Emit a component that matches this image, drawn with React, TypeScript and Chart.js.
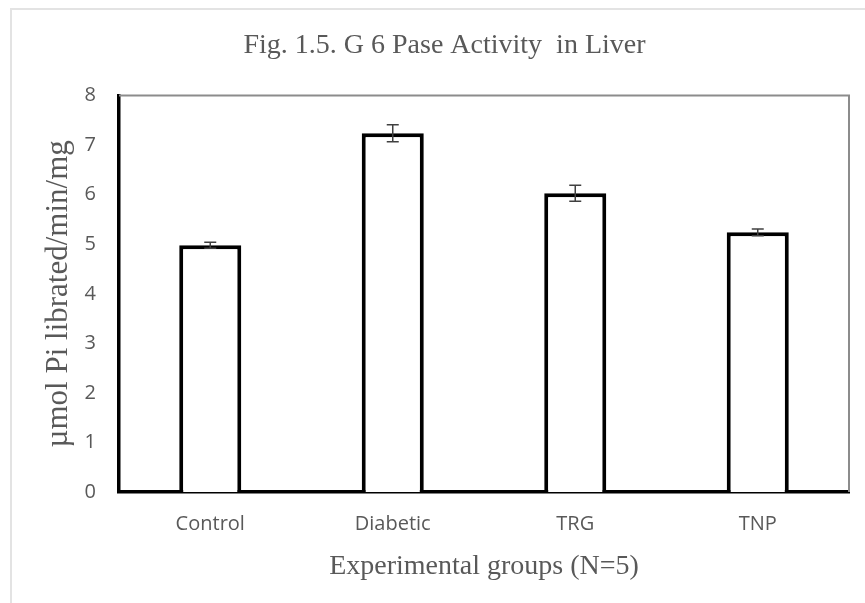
import React, { useEffect, useRef } from "react";
import { Chart, registerables } from "chart.js";

Chart.register(...registerables);

const categories = ["Control", "Diabetic", "TRG", "TNP"];
const meanValues = [4.98, 7.24, 6.03, 5.24];
const errorValues = [0.06, 0.17, 0.16, 0.07];
const yTicks = [0, 1, 2, 3, 4, 5, 6, 7, 8];
const chartTitle = "Fig. 1.5. G 6 Pase Activity  in Liver";
const xTitle = "Experimental groups (N=5)";
const yTitle = "µmol Pi librated/min/mg";

const textGray = "#595959";
const serif = "'Liberation Serif', 'Times New Roman', serif";

const decorPlugin = {
  id: "decor",
  beforeDraw(chart: any) {
    const { ctx, width, height } = chart;
    ctx.save();
    ctx.fillStyle = "#ffffff";
    ctx.fillRect(0, 0, width, height);
    ctx.strokeStyle = "#e3e3e3";
    ctx.lineWidth = 2;
    ctx.beginPath();
    ctx.moveTo(11, height);
    ctx.lineTo(11, 9);
    ctx.lineTo(width, 9);
    ctx.stroke();
    ctx.restore();
  },
  afterDraw(chart: any) {
    const { ctx, chartArea } = chart;
    ctx.save();
    ctx.strokeStyle = "#8c8c8c";
    ctx.lineWidth = 2;
    ctx.beginPath();
    ctx.moveTo(chartArea.left, chartArea.top);
    ctx.lineTo(chartArea.right, chartArea.top);
    ctx.lineTo(chartArea.right, chartArea.bottom);
    ctx.stroke();
    ctx.restore();
  },
};

const errorBarPlugin = {
  id: "errorBars",
  afterDatasetsDraw(chart: any) {
    const { ctx } = chart;
    const meta = chart.getDatasetMeta(0);
    const yScale = chart.scales.y;
    ctx.save();
    ctx.strokeStyle = "#404040";
    ctx.lineWidth = 1.5;
    meta.data.forEach((bar: any, i: number) => {
      const x = bar.x;
      const yHi = yScale.getPixelForValue(meanValues[i] + errorValues[i]);
      const yLo = yScale.getPixelForValue(meanValues[i] - errorValues[i]);
      const cap = 6;
      ctx.beginPath();
      ctx.moveTo(x, yHi);
      ctx.lineTo(x, yLo);
      ctx.moveTo(x - cap, yHi);
      ctx.lineTo(x + cap, yHi);
      ctx.moveTo(x - cap, yLo);
      ctx.lineTo(x + cap, yLo);
      ctx.stroke();
    });
    ctx.restore();
  },
};

export default function App() {
  const canvasRef = useRef<HTMLCanvasElement | null>(null);

  useEffect(() => {
    if (!canvasRef.current) return;
    const chart = new Chart(canvasRef.current, {
      type: "bar",
      data: {
        labels: categories,
        datasets: [
          {
            data: meanValues,
            backgroundColor: "#ffffff",
            borderColor: "#000000",
            borderWidth: 4,
            borderSkipped: "bottom",
            categoryPercentage: 1,
            barPercentage: 0.34,
          },
        ],
      },
      options: {
        responsive: false,
        animation: false,
        layout: { padding: { left: 40, right: 16, top: 0, bottom: 0 } },
        plugins: {
          legend: { display: false },
          tooltip: { enabled: false },
          title: {
            display: true,
            text: chartTitle,
            color: textGray,
            font: { family: serif, size: 28, weight: "normal" },
            padding: { top: 29, bottom: 33 },
          },
        },
        scales: {
          x: {
            grid: { display: false },
            border: { display: true, color: "#000000", width: 3.5 },
            ticks: {
              color: textGray,
              font: { family: "'Open Sans', sans-serif", size: 20 },
              padding: 12,
            },
            title: {
              display: true,
              text: xTitle,
              color: textGray,
              font: { family: serif, size: 28 },
              padding: { top: 0, bottom: 20 },
            },
            afterFit(scale: any) {
              scale.height = 111;
            },
          },
          y: {
            min: 0,
            max: 8,
            afterBuildTicks(scale: any) {
              scale.ticks = yTicks.map((v) => ({ value: v }));
            },
            grid: { display: false },
            border: { display: true, color: "#000000", width: 3.5 },
            ticks: {
              color: textGray,
              font: { family: "'Open Sans', sans-serif", size: 20 },
              padding: 15,
            },
            title: {
              display: true,
              text: yTitle,
              color: textGray,
              font: { family: serif, size: 31 },
              padding: { top: 0, bottom: 0 },
            },
            afterFit(scale: any) {
              scale.width = 79;
            },
          },
        },
      },
      plugins: [decorPlugin, errorBarPlugin],
    });
    return () => chart.destroy();
  }, []);

  return (
    <div style={{ position: "absolute", left: 0, top: 0, width: 865, height: 603, background: "#fff" }}>
      <canvas ref={canvasRef} width={865} height={603} />
    </div>
  );
}
